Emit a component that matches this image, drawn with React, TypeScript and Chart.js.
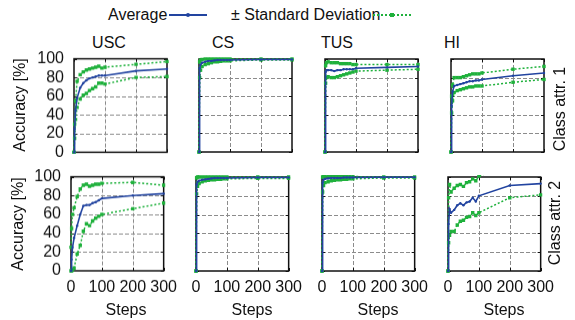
import React, { useEffect, useRef } from "react";
import { Chart, registerables } from "chart.js";
Chart.register(...registerables);

// ---------- data ----------
const steps = [0, 2, 5, 10, 20, 30, 40, 50, 60, 70, 80, 90, 100, 200, 300];
const methods = ["USC", "CS", "TUS", "HI"];
const classAttrs = ["Class attr. 1", "Class attr. 2"];
const xTickStep = 100;
const yTickStep = 20;

// Class attr. 1
const uscMean1 = [0, 25, 45, 58, 69, 74, 77, 79, 80, 81, 82, 82, 82, 87, 89];
const uscUpper1 = [0, 30, 55, 76, 83, 86, 88, 89, 90, 91, 92, 90, 91, 94, 97];
const uscLower1 = [0, 15, 35, 48, 57, 61, 63, 66, 68, 70, 74, 74, 73, 80, 81];

const csMean1 = [0, 90, 94, 96, 97, 98, 98, 98.5, 99, 99, 99, 99, 99, 99.5, 99.5];
const csUpper1 = [0, 97, 99, 99.5, 100, 100, 100, 100, 100, 100, 100, 100, 100, 100, 100];
const csLower1 = [0, 80, 88, 92, 94, 95, 96, 97, 97, 97.5, 98, 98, 98, 99, 99];

const tusMean1 = [0, 86, 88, 88, 88, 87, 88, 88, 89, 89, 89, 89, 90, 91, 92];
const tusUpper1 = [0, 93, 96, 97, 96, 96, 96, 95, 95, 95, 95, 94, 94, 94, 94];
const tusLower1 = [0, 74, 80, 81, 80, 80, 81, 82, 83, 84, 85, 86, 87, 88, 89];

const hiMean1 = [0, 50, 65, 71, 72, 73, 74, 75, 76, 76, 77, 77, 78, 82, 85];
const hiUpper1 = [0, 60, 72, 80, 80, 80, 81, 82, 83, 84, 84, 84, 85, 89, 92];
const hiLower1 = [0, 42, 55, 64, 66, 67, 68, 69, 70, 70, 71, 71, 71, 75, 78];

// Class attr. 2
const uscMean2 = [0, 12, 25, 35, 48, 60, 69, 70, 70, 72, 73, 75, 77, 80, 82];
const uscUpper2 = [25, 45, 60, 67, 79, 87, 91, 92, 90, 91, 92, 92, 93, 94, 91];
const uscLower2 = [0, 0, 1, 3, 18, 27, 42, 50, 48, 53, 56, 58, 60, 66, 72];

const csMean2 = [0, 92, 95, 96, 97, 97.5, 98, 98.5, 99, 99, 99, 99, 99, 99.5, 99.5];
const csUpper2 = [0, 99, 100, 100, 100, 100, 100, 100, 100, 100, 100, 100, 100, 100, 100];
const csLower2 = [0, 82, 90, 93, 95, 96, 96.5, 97, 97, 97.5, 97.5, 98, 98, 98.5, 98.5];

const tusMean2 = [0, 94, 97, 98, 98.5, 99, 99, 99, 99, 99.5, 99.5, 99.5, 99.5, 99.8, 99.8];
const tusUpper2 = [0, 100, 101, 101, 101, 101, 101, 101, 101, 100.5, 100.5, 100.5, 100.5, 100, 100];
const tusLower2 = [0, 84, 91, 94, 95, 96, 96.5, 97, 97, 97.5, 97.5, 98, 98, 99, 99];

const hiMean2 = [0, 50, 66, 62, 65, 70, 72, 70, 73, 74, 78, 74, 80, 91, 93];
const hiUpper2 = [0, 78, 92, 84, 88, 91, 92, 90, 94, 95, 98, 96, 101, 112, 114];
const hiLower2 = [0, 30, 38, 42, 42, 49, 53, 54, 57, 58, 62, 59, 62, 78, 81];

const rows = [
  [
    [uscMean1, uscUpper1, uscLower1],
    [csMean1, csUpper1, csLower1],
    [tusMean1, tusUpper1, tusLower1],
    [hiMean1, hiUpper1, hiLower1],
  ],
  [
    [uscMean2, uscUpper2, uscLower2],
    [csMean2, csUpper2, csLower2],
    [tusMean2, tusUpper2, tusLower2],
    [hiMean2, hiUpper2, hiLower2],
  ],
];

// ---------- style / layout ----------
const FONT = "'Liberation Sans', Arial, Helvetica, sans-serif";
const BLUE = "#2244a0";
const GREEN = "#1fb13c";
const rowTops = [59, 177];
const rowHeights = [93, 94];
const colLefts = [
  [74, 199, 325, 451],
  [71, 196, 322, 448],
];
const plotW = 93;
const titleX = [109, 223, 337, 452];
const stepsX = [126, 252, 378, 504];

const framePlugin = {
  id: "frame",
  beforeDatasetsDraw(chart: any) {
    const { ctx, chartArea: a, scales } = chart;
    ctx.save();
    // dashed grid
    ctx.strokeStyle = "#8c8c8c";
    ctx.lineWidth = 1;
    ctx.setLineDash([4, 2]);
    ctx.beginPath();
    for (const t of scales.x.ticks) {
      if (t.value <= scales.x.min || t.value >= scales.x.max) continue;
      const px = Math.round(scales.x.getPixelForValue(t.value)) + 0.5;
      ctx.moveTo(px, a.top);
      ctx.lineTo(px, a.bottom);
    }
    for (const t of scales.y.ticks) {
      if (t.value <= scales.y.min || t.value >= scales.y.max) continue;
      const py = Math.round(scales.y.getPixelForValue(t.value)) + 0.5;
      ctx.moveTo(a.left, py);
      ctx.lineTo(a.right, py);
    }
    ctx.stroke();
    // inward tick marks
    ctx.setLineDash([]);
    ctx.strokeStyle = "#111";
    ctx.beginPath();
    for (const t of scales.x.ticks) {
      const px = Math.round(scales.x.getPixelForValue(t.value)) + 0.5;
      ctx.moveTo(px, a.bottom);
      ctx.lineTo(px, a.bottom - 3);
      ctx.moveTo(px, a.top);
      ctx.lineTo(px, a.top + 3);
    }
    for (const t of scales.y.ticks) {
      const py = Math.round(scales.y.getPixelForValue(t.value)) + 0.5;
      ctx.moveTo(a.left, py);
      ctx.lineTo(a.left + 3, py);
      ctx.moveTo(a.right, py);
      ctx.lineTo(a.right - 3, py);
    }
    ctx.stroke();
    // frame
    ctx.lineWidth = 1.5;
    ctx.strokeRect(a.left, a.top, a.right - a.left, a.bottom - a.top);
    ctx.restore();
  },
};

type PanelProps = {
  mean: number[];
  upper: number[];
  lower: number[];
  x: number;
  y: number;
  h: number;
  showY: boolean;
  showX: boolean;
};

function Panel({ mean, upper, lower, x, y, h, showY, showX }: PanelProps) {
  const ref = useRef<HTMLCanvasElement | null>(null);
  const padL = showY ? 50 : 12;
  const padT = 14;
  const padR = 18;
  const padB = showX ? 32 : 14;

  useEffect(() => {
    const canvas = ref.current;
    if (!canvas) return;
    const toPts = (arr: number[]) => arr.map((v, i) => ({ x: steps[i], y: v }));
    const greenDs = (arr: number[]) => ({
      data: toPts(arr),
      borderColor: GREEN,
      backgroundColor: GREEN,
      borderWidth: 1.5,
      borderDash: [2, 2],
      pointStyle: "rect",
      pointRadius: 2.4,
      pointBorderWidth: 0,
      pointBackgroundColor: GREEN,
      tension: 0,
      clip: 2,
    });
    const config = (): any => ({
      type: "line",
      data: {
        datasets: [
          {
            data: toPts(mean),
            borderColor: BLUE,
            backgroundColor: BLUE,
            borderWidth: 1.6,
            pointRadius: 1.2,
            pointBorderWidth: 0,
            pointBackgroundColor: BLUE,
            tension: 0,
            clip: 2,
          },
          greenDs(upper),
          greenDs(lower),
        ],
      },
      options: {
        animation: false,
        responsive: false,
        maintainAspectRatio: false,
        devicePixelRatio: 1,
        layout: { padding: { top: padT, right: padR, left: 0, bottom: 0 } },
        plugins: { legend: { display: false }, tooltip: { enabled: false } },
        scales: {
          x: {
            type: "linear",
            min: 0,
            max: 300,
            ticks: {
              stepSize: xTickStep,
              autoSkip: false,
              display: showX,
              padding: 7,
              color: "#111",
              font: { family: FONT, size: 16 },
              maxRotation: 0,
            },
            grid: { display: false, drawTicks: false },
            border: { display: false },
            afterFit: (s: any) => {
              s.height = padB;
            },
          },
          y: {
            type: "linear",
            min: 0,
            max: 100,
            ticks: {
              stepSize: yTickStep,
              autoSkip: false,
              display: showY,
              padding: 10,
              color: "#111",
              font: { family: FONT, size: 16 },
            },
            grid: { display: false, drawTicks: false },
            border: { display: false },
            afterFit: (s: any) => {
              s.width = padL;
            },
          },
        },
      },
      plugins: [framePlugin],
    });

    const setSize = (w: number, hh: number) => {
      canvas.width = w;
      canvas.height = hh;
      canvas.style.width = w + "px";
      canvas.style.height = hh + "px";
    };
    const w0 = padL + plotW + padR;
    const h0 = padT + h + padB;
    setSize(w0, h0);
    let chart = new Chart(canvas, config());
    const a = chart.chartArea;
    const dw = plotW - (a.right - a.left);
    const dh = h - (a.bottom - a.top);
    chart.destroy();
    setSize(w0 + dw, h0 + dh);
    chart = new Chart(canvas, config());
    const b = chart.chartArea;
    canvas.style.left = x - b.left + "px";
    canvas.style.top = y - b.top + "px";
    return () => chart.destroy();
  }, []);

  return <canvas ref={ref} style={{ position: "absolute", left: x - padL, top: y - padT }} />;
}

const textStyle: React.CSSProperties = {
  position: "absolute",
  fontFamily: FONT,
  fontSize: 16,
  color: "#111",
  whiteSpace: "nowrap",
  lineHeight: "18px",
};

function Centered({ x, y, text, rotate }: { x: number; y: number; text: string; rotate?: boolean }) {
  return (
    <div
      style={{
        ...textStyle,
        left: x,
        top: y,
        transform: `translate(-50%, -50%)${rotate ? " rotate(-90deg)" : ""}`,
      }}
    >
      {text}
    </div>
  );
}

export default function App() {
  return (
    <div
      style={{
        position: "fixed",
        left: 0,
        top: 0,
        width: 575,
        height: 320,
        background: "#fff",
        overflow: "hidden",
      }}
    >
      {/* legend */}
      <div style={{ ...textStyle, left: 108, top: 6 }}>Average</div>
      <div style={{ position: "absolute", left: 169, top: 14, width: 38, height: 2, background: BLUE }} />
      <div style={{ position: "absolute", left: 186, top: 13, width: 4, height: 4, borderRadius: 2, background: BLUE }} />
      <div style={{ ...textStyle, left: 231, top: 6 }}>± Standard Deviation</div>
      <div style={{ position: "absolute", left: 373, top: 14, width: 38, height: 0, borderTop: `2px dotted ${GREEN}` }} />
      <div style={{ position: "absolute", left: 390, top: 13, width: 4, height: 4, background: GREEN }} />

      {methods.map((m, i) => (
        <Centered key={m} x={titleX[i]} y={43} text={m} />
      ))}

      {rows.map((row, r) =>
        row.map((d, c) => (
          <Panel
            key={`${r}-${c}`}
            mean={d[0]}
            upper={d[1]}
            lower={d[2]}
            x={colLefts[r][c]}
            y={rowTops[r]}
            h={rowHeights[r]}
            showY={c === 0}
            showX={r === 1}
          />
        ))
      )}

      <Centered x={20} y={105} text="Accuracy [%]" rotate />
      <Centered x={18} y={224} text="Accuracy [%]" rotate />
      <Centered x={560} y={109} text={classAttrs[0]} rotate />
      <Centered x={555} y={223} text={classAttrs[1]} rotate />

      {stepsX.map((sx, i) => (
        <Centered key={i} x={sx} y={310} text="Steps" />
      ))}
    </div>
  );
}
